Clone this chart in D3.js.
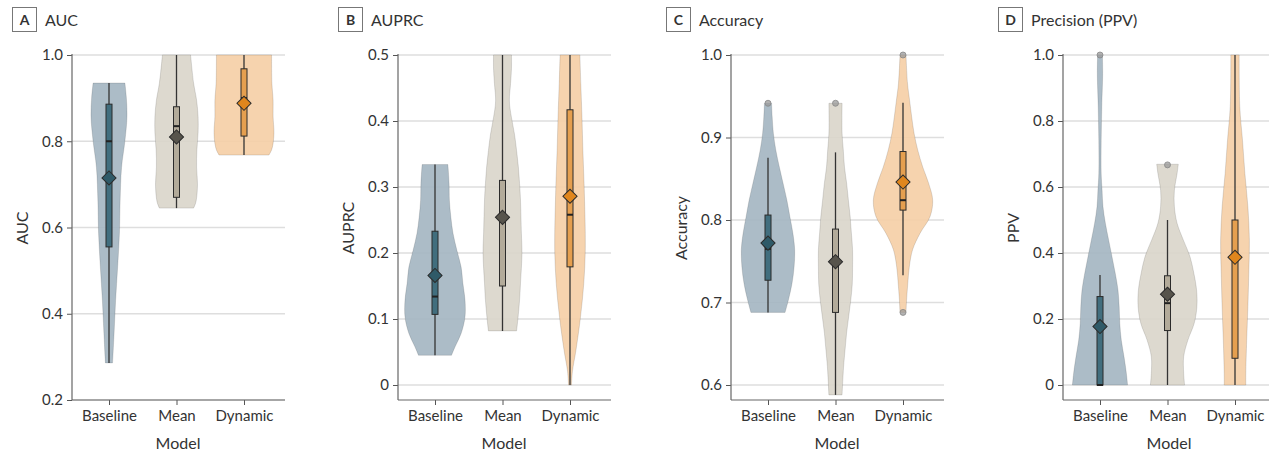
<!DOCTYPE html>
<html><head><meta charset="utf-8">
<script src="https://cdn.jsdelivr.net/npm/d3@7"></script>
<style>body{margin:0;background:#fff} svg{display:block} text{font-family:Lato,"Liberation Sans",sans-serif;fill:#333}</style>
</head><body><svg id="c" width="1269" height="452"></svg>
<script>
// ---------- DATA ----------
const models = ["Baseline", "Mean", "Dynamic"];
const panelLetters = ["A", "B", "C", "D"];
const panelTitles = ["AUC", "AUPRC", "Accuracy", "Precision (PPV)"];
const yTitles = ["AUC", "AUPRC", "Accuracy", "PPV"];
const xTitle = "Model";

const ticksAUC = [0.2, 0.4, 0.6, 0.8, 1.0];
const ticksAUPRC = [0, 0.1, 0.2, 0.3, 0.4, 0.5];
const ticksAcc = [0.6, 0.7, 0.8, 0.9, 1.0];
const ticksPPV = [0, 0.2, 0.4, 0.6, 0.8, 1.0];

// violin density profiles: [value, relative density]
const aucBaselineViolin = [[0.935,.53],[0.90,.58],[0.857,.60],[0.80,.53],[0.74,.42],[0.66,.37],[0.59,.35],[0.51,.29],[0.43,.22],[0.355,.17],[0.286,.12]];
const aucMeanViolin = [[1.0,.47],[0.935,.57],[0.895,.67],[0.857,.72],[0.82,.72],[0.78,.68],[0.74,.67],[0.70,.70],[0.66,.65],[0.645,.57]];
const aucDynamicViolin = [[1.0,.92],[0.935,.93],[0.895,.97],[0.857,.97],[0.82,1.0],[0.795,.97],[0.78,.92],[0.768,.83]];

const auprcBaselineViolin = [[0.334,.43],[0.305,.47],[0.28,.48],[0.254,.53],[0.23,.60],[0.204,.73],[0.179,.87],[0.154,.93],[0.129,1.0],[0.103,1.0],[0.078,.87],[0.058,.67],[0.045,.55]];
const auprcMeanViolin = [[0.5,.30],[0.48,.30],[0.457,.27],[0.43,.23],[0.405,.30],[0.38,.40],[0.355,.47],[0.33,.53],[0.305,.57],[0.28,.60],[0.23,.63],[0.20,.65],[0.154,.60],[0.129,.57],[0.103,.52],[0.082,.47]];
const auprcDynamicViolin = [[0.5,.33],[0.457,.36],[0.405,.40],[0.355,.43],[0.305,.47],[0.254,.50],[0.204,.51],[0.154,.46],[0.103,.35],[0.053,.20],[0.02,.08],[0,.05]];

const accBaselineViolin = [[0.9415,.12],[0.925,.14],[0.905,.18],[0.885,.26],[0.864,.38],[0.845,.50],[0.824,.63],[0.804,.73],[0.784,.83],[0.764,.89],[0.743,.87],[0.723,.80],[0.703,.68],[0.688,.57]];
const accMeanViolin = [[0.9415,.22],[0.905,.22],[0.885,.26],[0.864,.30],[0.845,.37],[0.824,.43],[0.804,.49],[0.784,.53],[0.764,.57],[0.743,.57],[0.723,.56],[0.703,.51],[0.683,.44],[0.663,.37],[0.643,.32],[0.622,.27],[0.588,.22]];
const accDynamicViolin = [[1.0,.10],[0.966,.15],[0.945,.22],[0.925,.29],[0.905,.37],[0.885,.49],[0.864,.66],[0.845,.85],[0.824,.99],[0.804,.90],[0.784,.57],[0.764,.32],[0.743,.21],[0.723,.16],[0.703,.12],[0.688,.10]];

const ppvBaselineViolin = [[1.0,.08],[0.945,.09],[0.843,.06],[0.742,.04],[0.641,.04],[0.59,.07],[0.54,.10],[0.49,.18],[0.439,.29],[0.389,.40],[0.338,.51],[0.288,.60],[0.237,.64],[0.187,.66],[0.136,.71],[0.086,.80],[0.035,.88],[0,.92]];
const ppvMeanViolin = [[0.669,.36],[0.641,.32],[0.59,.23],[0.54,.23],[0.49,.32],[0.439,.53],[0.389,.75],[0.338,.88],[0.288,.97],[0.237,.98],[0.187,.89],[0.136,.68],[0.086,.54],[0.035,.54],[0,.57]];
const ppvDynamicViolin = [[1.0,.14],[0.843,.16],[0.742,.25],[0.641,.33],[0.54,.43],[0.439,.48],[0.338,.46],[0.237,.43],[0.136,.39],[0.035,.36],[0,.36]];

// box stats per model: [whiskerLow, q1, median, q3, whiskerHigh, mean]
const aucStats = [[0.286,0.555,0.80,0.886,0.935,0.715],[0.645,0.67,0.835,0.88,1.0,0.81],[0.768,0.812,0.90,0.968,1.0,0.888]];
const auprcStats = [[0.045,0.107,0.134,0.233,0.334,0.166],[0.082,0.15,0.248,0.31,0.5,0.254],[0,0.179,0.258,0.417,0.5,0.286]];
const accStats = [[0.688,0.727,0.765,0.806,0.8755,0.772],[0.588,0.688,0.745,0.789,0.882,0.7495],[0.733,0.812,0.824,0.883,0.942,0.846]];
const ppvStats = [[0,0,0,0.268,0.333,0.177],[0,0.165,0.248,0.331,0.5,0.275],[0,0.081,0.40,0.5,1.0,0.387]];

// outliers per model
const aucOutliers = [[],[],[]];
const auprcOutliers = [[],[],[]];
const accOutliers = [[0.9415],[0.9415],[1.0,0.688]];
const ppvOutliers = [[1.0],[0.667],[]];

// ---------- STYLE / LAYOUT ----------
const violinFill = ["#a3b5c1", "#d9d5ca", "#f5cea5"];
const boxFill = ["#416e7e", "#b3ab9a", "#e59f4f"];
const meanFill = ["#2f5a68", "#57544c", "#e0861d"];

const panels = [
  {ticks: ticksAUC, violins:[aucBaselineViolin,aucMeanViolin,aucDynamicViolin], stats: aucStats, out: aucOutliers, axisX:72, boxX:12, lowY:400},
  {ticks: ticksAUPRC, violins:[auprcBaselineViolin,auprcMeanViolin,auprcDynamicViolin], stats: auprcStats, out: auprcOutliers, axisX:398, boxX:338, lowY:385},
  {ticks: ticksAcc, violins:[accBaselineViolin,accMeanViolin,accDynamicViolin], stats: accStats, out: accOutliers, axisX:731, boxX:666, lowY:385},
  {ticks: ticksPPV, violins:[ppvBaselineViolin,ppvMeanViolin,ppvDynamicViolin], stats: ppvStats, out: ppvOutliers, axisX:1063, boxX:998, lowY:385}
];

const svg = d3.select("#c");
const topY = 55, bottomY = 400, plotW = 213;
const wScale = d3.scaleLinear().domain([0, 1]).range([0, 30]);
const fmt = v => v === 0 ? "0" : d3.format(".1f")(v);

panels.forEach((p, i) => {
  const g = svg.append("g");
  const x = d3.scalePoint().domain(models).range([p.axisX + 37, p.axisX + 172]);
  const t = p.ticks;
  const y = d3.scaleLinear().domain([t[0], t[t.length - 1]]).range([p.lowY, topY]);
  const right = Math.min(p.axisX + plotW, 1269);

  // grid
  g.append("g").selectAll("line").data(t).join("line")
    .attr("x1", p.axisX).attr("x2", right)
    .attr("y1", d => y(d)).attr("y2", d => y(d))
    .attr("stroke", "#dedede").attr("stroke-width", 1.6);

  // axes
  const ya = g.append("g").attr("transform", `translate(${p.axisX},0)`)
    .call(d3.axisLeft(y).tickValues(t).tickFormat(fmt).tickSize(5).tickPadding(4));
  ya.select(".domain").remove();
  ya.selectAll(".tick line").attr("stroke", "#555");
  ya.selectAll(".tick text").attr("font-size", 15).attr("fill", "#333").attr("font-family", "Lato");

  const xa = g.append("g").attr("transform", `translate(0,${bottomY})`)
    .call(d3.axisBottom(x).tickSize(5).tickPadding(5));
  xa.select(".domain").remove();
  xa.selectAll(".tick line").attr("stroke", "#555");
  xa.selectAll(".tick text").attr("font-size", 15).attr("fill", "#333").attr("font-family", "Lato");

  g.append("line").attr("x1", p.axisX).attr("x2", p.axisX).attr("y1", topY - 1).attr("y2", bottomY)
    .attr("stroke", "#666").attr("stroke-width", 1.2);
  g.append("line").attr("x1", p.axisX).attr("x2", right).attr("y1", bottomY).attr("y2", bottomY)
    .attr("stroke", "#666").attr("stroke-width", 1.2);

  // violins
  models.forEach((m, j) => {
    const cx = x(m);
    const area = d3.area().curve(d3.curveCatmullRom.alpha(0.5))
      .y(d => y(d[0])).x0(d => cx - wScale(d[1])).x1(d => cx + wScale(d[1]));
    g.append("path").datum(p.violins[j]).attr("d", area)
      .attr("fill", violinFill[j]).attr("fill-opacity", 0.9)
      .attr("stroke", "#000").attr("stroke-opacity", 0.12).attr("stroke-width", 1);
  });

  // whiskers, boxes, medians, means, outliers
  models.forEach((m, j) => {
    const cx = x(m), s = p.stats[j];
    g.append("line").attr("x1", cx).attr("x2", cx).attr("y1", y(s[0])).attr("y2", y(s[4]))
      .attr("stroke", "#333").attr("stroke-width", 1.3);
    g.append("rect").attr("x", cx - 3).attr("width", 6)
      .attr("y", y(s[3])).attr("height", Math.max(1, y(s[1]) - y(s[3])))
      .attr("fill", boxFill[j]).attr("stroke", "#2b2b2b").attr("stroke-width", 1);
    g.append("line").attr("x1", cx - 3).attr("x2", cx + 3).attr("y1", y(s[2])).attr("y2", y(s[2]))
      .attr("stroke", "#222").attr("stroke-width", 2);
    g.selectAll(null).data(p.out[j]).join("circle")
      .attr("cx", cx).attr("cy", d => y(d)).attr("r", 3)
      .attr("fill", "#999").attr("fill-opacity", 0.75).attr("stroke", "#888").attr("stroke-width", 0.8);
    g.append("path").attr("d", d3.symbol().type(d3.symbolSquare).size(100)())
      .attr("transform", `translate(${cx},${y(s[5])}) rotate(45)`)
      .attr("fill", meanFill[j]).attr("stroke", "#2b2b2b").attr("stroke-width", 1);
  });

  // titles
  g.append("rect").attr("x", p.boxX + 0.5).attr("y", 7.5).attr("width", 24).attr("height", 24)
    .attr("fill", "#fff").attr("stroke", "#777").attr("stroke-width", 1);
  g.append("text").attr("x", p.boxX + 12.5).attr("y", 25).attr("text-anchor", "middle")
    .attr("font-size", 14).attr("font-weight", "bold").attr("fill", "#222").text(panelLetters[i]);
  g.append("text").attr("x", p.boxX + 33).attr("y", 26)
    .attr("font-size", 16).attr("fill", "#222").text(panelTitles[i]);

  g.append("text").attr("transform", `translate(${p.axisX - 44},228) rotate(-90)`)
    .attr("text-anchor", "middle").attr("font-size", 16).attr("fill", "#222").text(yTitles[i]);
  g.append("text").attr("x", p.axisX + 106).attr("y", 449).attr("text-anchor", "middle")
    .attr("font-size", 16).attr("fill", "#222").text(xTitle);
});
</script></body></html>
